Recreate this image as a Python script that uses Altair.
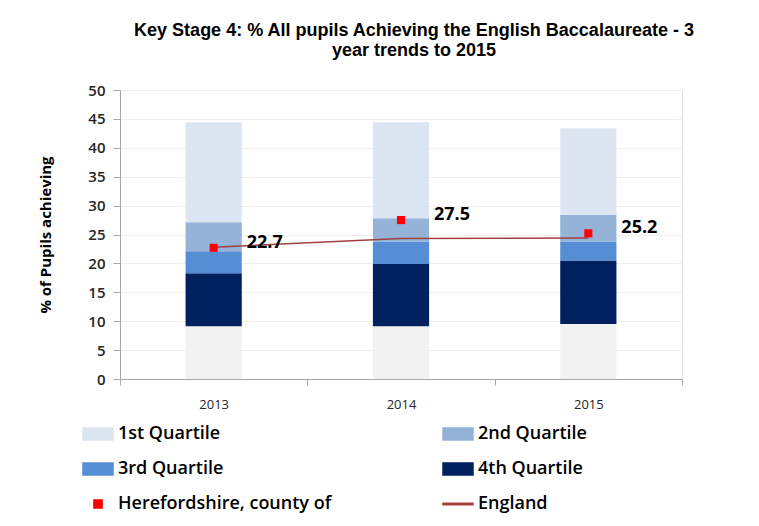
import altair as alt
import pandas as pd

# ---- data ----
years = ["2013", "2014", "2015"]
base_top = [9.1, 9.1, 9.5]      # top of the unlabelled grey base segment
q4_top = [18.3, 19.9, 20.5]     # 4th Quartile upper bound
q3_top = [22.1, 23.8, 23.8]     # 3rd Quartile upper bound
q2_top = [27.1, 27.8, 28.4]     # 2nd Quartile upper bound
q1_top = [44.4, 44.4, 43.4]     # 1st Quartile upper bound
hereford = [22.7, 27.5, 25.2]   # Herefordshire, county of
england = [22.8, 24.3, 24.4]    # England

# legend is filled column by column: left column first, then right column
series_names = ["1st Quartile", "3rd Quartile", "Herefordshire, county of",
                "2nd Quartile", "4th Quartile", "England"]
series_colors = ["#DCE6F2", "#558ED5", "#FF0000", "#95B3D7", "#002060", "#A0413F"]

RECT = "M-1,-0.4H1V0.4H-1Z"
SQ = "M-0.27,-0.27H0.27V0.27H-0.27Z"
LINE = "M-1,-0.05H1V0.05H-1Z"
series_shapes = [RECT, RECT, SQ, RECT, RECT, LINE]

seg_rows = []
for i, y in enumerate(years):
    seg_rows.append(dict(year=y, series="4th Quartile", lo=base_top[i], hi=q4_top[i]))
    seg_rows.append(dict(year=y, series="3rd Quartile", lo=q4_top[i], hi=q3_top[i]))
    seg_rows.append(dict(year=y, series="2nd Quartile", lo=q3_top[i], hi=q2_top[i]))
    seg_rows.append(dict(year=y, series="1st Quartile", lo=q2_top[i], hi=q1_top[i]))
seg_df = pd.DataFrame(seg_rows)
base_df = pd.DataFrame(dict(year=years, lo=[0] * 3, hi=base_top))
her_df = pd.DataFrame(dict(year=years, value=hereford, series=["Herefordshire, county of"] * 3))
eng_df = pd.DataFrame(dict(year=years, value=england, series=["England"] * 3))

FONT = "Open Sans"

legend = alt.Legend(
    title=None, orient="none", legendX=-38, legendY=328, columns=2,
    columnPadding=108, rowPadding=10, symbolSize=900, labelOffset=4,
    labelFont=FONT, labelFontSize=18, labelFontWeight=600, labelColor="#000000",
    labelLimit=400,
)
color = alt.Color("series:N", scale=alt.Scale(domain=series_names, range=series_colors), legend=legend)
shape = alt.Shape("series:N", scale=alt.Scale(domain=series_names, range=series_shapes), legend=legend)

x = alt.X("year:N", sort=years,
          scale=alt.Scale(paddingInner=0, paddingOuter=0),
          axis=alt.Axis(title=None, labelAngle=0, tickBand="extent", tickSize=6, labelPadding=13,
                        labelFont=FONT, labelFontSize=13, labelColor="#262626",
                        domainColor="#A6A6A6", tickColor="#A6A6A6", grid=False))
yscale = alt.Scale(domain=[0, 50])
yaxis = alt.Axis(values=list(range(0, 55, 5)), tickSize=7, labelPadding=8,
                 labelFont=FONT, labelFontSize=15, labelFontWeight=600, labelColor="#262626",
                 title="% of Pupils achieving", titleFont=FONT, titleFontSize=15,
                 titleFontWeight="bold", titleColor="#000000", titlePadding=34,
                 domainColor="#A6A6A6", tickColor="#A6A6A6", gridColor="#F0F0E6")

BAR_W = alt.RelativeBandSize(0.3)
bars = alt.Chart(seg_df).mark_bar(width=BAR_W).encode(
    x=x, y=alt.Y("lo:Q", scale=yscale, axis=yaxis), y2="hi:Q", color=color)
base = alt.Chart(base_df).mark_bar(width=BAR_W, color="#F2F2F2").encode(
    x=x, y=alt.Y("lo:Q", scale=yscale, axis=yaxis), y2="hi:Q")
line = alt.Chart(eng_df).mark_line(strokeWidth=1.5).encode(
    x=x, y=alt.Y("value:Q", scale=yscale, axis=yaxis), color=color)
pts = alt.Chart(her_df).mark_point(filled=True, size=900, opacity=1).encode(
    x=x, y=alt.Y("value:Q", scale=yscale, axis=yaxis), color=color, shape=shape)
labels = alt.Chart(her_df).mark_text(align="left", baseline="middle", dx=33, dy=-5,
                                     font=FONT, fontSize=18, fontWeight="bold", color="#000000").encode(
    x=x, y=alt.Y("value:Q", scale=yscale, axis=yaxis), text=alt.Text("value:Q", format=".1f"))

chart = alt.layer(bars, base, line, pts, labels).properties(
    width=562, height=289,
    padding={"left": 30, "top": 14, "right": 5, "bottom": 5},
    title=alt.TitleParams(
        text=["Key Stage 4: % All pupils Achieving the English Baccalaureate - 3",
              "year trends to 2015"],
        font="Liberation Sans", fontSize=18, fontWeight="bold", color="#000000",
        anchor="middle", dx=13, offset=23, lineHeight=20),
).configure_view(strokeWidth=0).configure(background="#FFFFFF")

chart.save("out.html", embed_options={"renderer": "svg", "actions": False})
